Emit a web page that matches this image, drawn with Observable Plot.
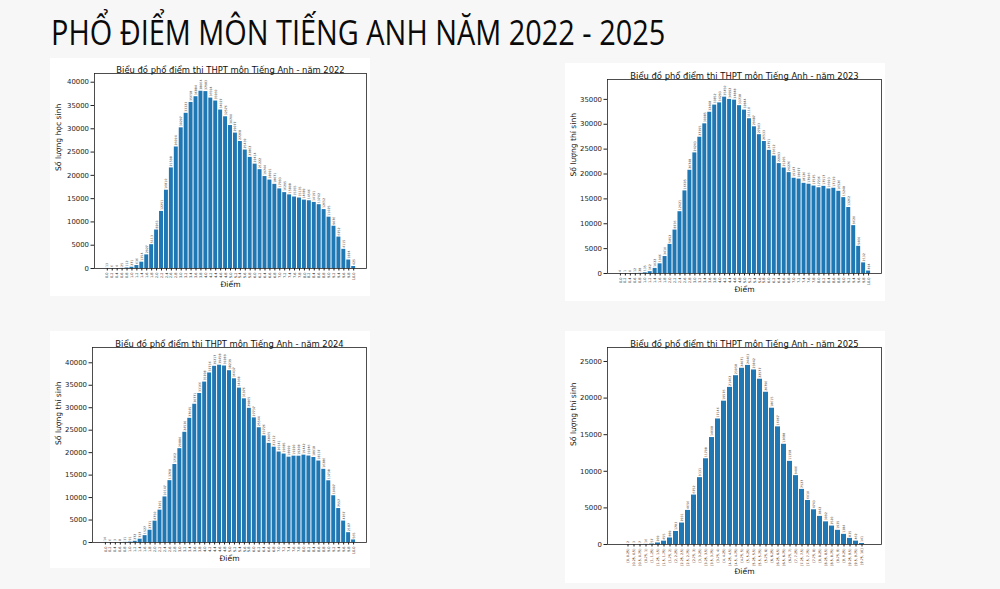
<!DOCTYPE html>
<html><head><meta charset="utf-8">
<script src="https://cdn.jsdelivr.net/npm/d3@7"></script>
<script src="https://cdn.jsdelivr.net/npm/@observablehq/plot@0.6"></script>
<style>
body{margin:0;background:#f7f7f7;width:1000px;height:589px;overflow:hidden;position:relative;}
#title{position:absolute;left:51px;top:9px;font-family:"Open Sans";font-size:34px;color:#0a0a0a;white-space:nowrap;transform:scaleX(0.85);transform-origin:left top;}
.panel{position:absolute;background:#fff;}
.panel svg{display:block;}
</style></head><body>
<div id="title">PHỔ ĐIỂM MÔN TIẾNG ANH NĂM 2022 - 2025</div>
<div id="p2022" class="panel" style="left:50px;top:58px;width:320px;height:238px"></div>
<div id="p2023" class="panel" style="left:565px;top:63px;width:320px;height:238px"></div>
<div id="p2024" class="panel" style="left:50px;top:331px;width:320px;height:237px"></div>
<div id="p2025" class="panel" style="left:565px;top:331px;width:320px;height:252px"></div>
<script>
const scoreLabels = ["0.0","0.2","0.4","0.6","0.8","1.0","1.2","1.4","1.6","1.8","2.0","2.2","2.4","2.6","2.8","3.0","3.2","3.4","3.6","3.8","4.0","4.2","4.4","4.6","4.8","5.0","5.2","5.4","5.6","5.8","6.0","6.2","6.4","6.6","6.8","7.0","7.2","7.4","7.6","7.8","8.0","8.2","8.4","8.6","8.8","9.0","9.2","9.4","9.6","9.8","10.0"];
const binLabels2025 = ["[0, 0.25)","[0.25, 0.5)","[0.5, 0.75)","[0.75, 1)","[1, 1.25)","[1.25, 1.5)","[1.5, 1.75)","[1.75, 2)","[2, 2.25)","[2.25, 2.5)","[2.5, 2.75)","[2.75, 3)","[3, 3.25)","[3.25, 3.5)","[3.5, 3.75)","[3.75, 4)","[4, 4.25)","[4.25, 4.5)","[4.5, 4.75)","[4.75, 5)","[5, 5.25)","[5.25, 5.5)","[5.5, 5.75)","[5.75, 6)","[6, 6.25)","[6.25, 6.5)","[6.5, 6.75)","[6.75, 7)","[7, 7.25)","[7.25, 7.5)","[7.5, 7.75)","[7.75, 8)","[8, 8.25)","[8.25, 8.5)","[8.5, 8.75)","[8.75, 9)","[9, 9.25)","[9.25, 9.5)","[9.5, 9.75)","[9.75, 10]"];
const counts2022 = [13,6,4,25,112,271,636,1354,2927,5113,8263,12251,16810,21598,26094,30207,33323,35658,36884,38064,37983,36594,35960,34027,32576,30700,29077,27268,25439,23862,22414,21222,19744,18991,18071,17093,16295,15808,15355,15135,14689,14546,14191,13702,12652,11025,9076,6752,4115,1824,425];
const counts2023 = [4,1,0,12,28,135,362,1022,1946,3410,5852,8736,12421,16605,20748,24243,27395,30085,32408,33852,34293,35450,34992,34848,33738,32844,31110,29487,27903,26533,24751,23612,22093,21205,20276,19147,18977,18126,17946,17575,17236,17517,16993,17139,16526,15248,13262,9620,5460,2132,494];
const counts2024 = [14,6,3,8,31,91,272,737,1527,2731,4750,7201,10147,13768,17362,20884,24530,27645,30771,33166,35708,37736,39217,39458,39289,38239,36437,34368,31976,29865,27737,25544,23726,22065,21212,20141,19685,18999,19220,19208,19442,19246,18918,18137,16286,13738,10407,7557,4767,2187,565];
const counts2025 = [2,3,7,16,57,209,455,889,1783,2931,4656,6752,9131,11708,14608,17146,19576,21462,23058,24071,24463,23842,22577,20796,18615,16067,13688,11358,9406,7527,6010,4743,3842,3092,2520,1935,1384,835,462,141];
const yTicks40 = [0,5000,10000,15000,20000,25000,30000,35000,40000];
const yTicks35 = [0,5000,10000,15000,20000,25000,30000,35000];
const yTicks25 = [0,5000,10000,15000,20000,25000];

function chart({el, labels, counts, year, ylabel, width, height, ml, mr, mt, mb, yticks, ylabDx, xlabDy, xFont}) {
  const data = labels.map((l, i) => ({label: l, count: counts[i]}));
  const ymax = d3.max(counts) * 1.1;
  const fig = Plot.plot({
    width, height,
    marginLeft: ml, marginRight: mr, marginTop: mt, marginBottom: mb,
    style: {fontFamily: "DejaVu Sans", background: "transparent", overflow: "visible", color: "#222"},
    x: {type: "band", domain: labels, paddingInner: 0.2, paddingOuter: 2.2},
    y: {domain: [0, ymax]},
    marks: [
      Plot.barY(data, {x: "label", y: "count", fill: "#1f77b4"}),
      Plot.text(data, {x: "label", y: "count", text: d => String(d.count), rotate: -90, textAnchor: "start", dy: -1.5, fontSize: 3.2, fill: "#444"}),
      Plot.axisX({tickRotate: -90, fontSize: xFont, tickSize: 2.5, tickPadding: 1.5, label: null}),
      Plot.axisY({ticks: yticks, tickFormat: d => String(d), fontSize: 6.9, tickSize: 3.5, tickPadding: 2, label: null}),
      Plot.frame({stroke: "#222", strokeWidth: 0.8}),
      Plot.text(["Biểu đồ phổ điểm thi THPT môn Tiếng Anh - năm " + year], {text: d => d, frameAnchor: "top", dy: -6.5, fontSize: 8.4, fill: "#111"}),
      Plot.text([ylabel], {text: d => d, frameAnchor: "left", rotate: -90, dx: ylabDx, fontSize: 7.6, fill: "#111"}),
      Plot.text(["Điểm"], {text: d => d, frameAnchor: "bottom", dy: xlabDy, fontSize: 7.6, fill: "#111"})
    ]
  });
  document.getElementById(el).appendChild(fig);
}

chart({el: "p2022", labels: scoreLabels, counts: counts2022, year: 2022, ylabel: "Số lượng học sinh", width: 320, height: 238, ml: 44, mr: 4, mt: 15, mb: 28, yticks: yTicks40, ylabDx: -36, xlabDy: 18, xFont: 3.5});
chart({el: "p2023", labels: scoreLabels, counts: counts2023, year: 2023, ylabel: "Số lượng thí sinh", width: 320, height: 238, ml: 42, mr: 4, mt: 16, mb: 28, yticks: yTicks35, ylabDx: -34, xlabDy: 18, xFont: 3.5});
chart({el: "p2024", labels: scoreLabels, counts: counts2024, year: 2024, ylabel: "Số lượng thí sinh", width: 320, height: 237, ml: 42, mr: 4, mt: 16, mb: 26, yticks: yTicks40, ylabDx: -34, xlabDy: 18, xFont: 3.5});
chart({el: "p2025", labels: binLabels2025, counts: counts2025, year: 2025, ylabel: "Số lượng thí sinh", width: 320, height: 252, ml: 42, mr: 4, mt: 16, mb: 39, yticks: yTicks25, ylabDx: -34, xlabDy: 29, xFont: 3.3});
</script>
</body></html>
